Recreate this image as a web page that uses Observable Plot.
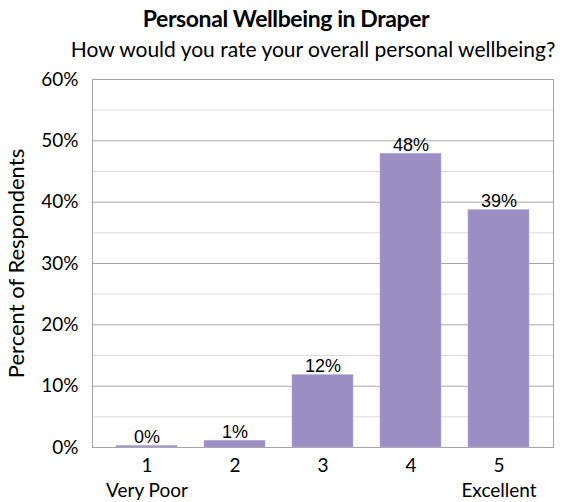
<!DOCTYPE html>
<html><head><meta charset="utf-8">
<script src="https://cdn.jsdelivr.net/npm/d3@7"></script>
<script src="https://cdn.jsdelivr.net/npm/@observablehq/plot@0.6"></script>
<style>
body{margin:0;background:#fff;font-family:Lato,"Open Sans",sans-serif;}
#wrap{width:572px;position:relative;}
#title{height:36px;line-height:36px;text-align:center;font-weight:bold;font-size:23px;letter-spacing:-0.4px;color:#000;}
#sub{height:24px;line-height:26px;text-align:center;font-size:21px;color:#000;padding-left:54px;white-space:nowrap;}
</style></head>
<body><div id="wrap"><div id="title">Personal Wellbeing in Draper</div><div id="sub">How would you rate your overall personal wellbeing?</div><div id="chart"></div></div>
<script>
const categories = ["1", "2", "3", "4", "5"];
const catLabels = ["1\nVery Poor", "2", "3", "4", "5\nExcellent"];
const values = [0.25, 1.1, 11.8, 47.9, 38.7];
const valueLabels = ["0%", "1%", "12%", "48%", "39%"];
const yTicks = [0, 10, 20, 30, 40, 50, 60];
const minorTicks = [5, 15, 25, 35, 45, 55];

const data = categories.map((c, i) => ({cat: c, value: values[i], label: valueLabels[i]}));
const labelMap = new Map(categories.map((c, i) => [c, catLabels[i]]));

const chart = Plot.plot({
  width: 572, height: 442,
  marginTop: 19, marginBottom: 55, marginLeft: 92, marginRight: 19,
  style: {fontFamily: "Lato, 'Open Sans', sans-serif", fontSize: "19px", color: "#000", background: "#fff", overflow: "visible"},
  x: {domain: categories, paddingInner: 0.305, paddingOuter: 0.245},
  y: {domain: [0, 60]},
  marks: [
    Plot.ruleY(minorTicks, {stroke: "#d9d9d9", strokeWidth: 1}),
    Plot.ruleY(yTicks, {stroke: "#a6a6a6", strokeWidth: 1}),
    Plot.frame({stroke: "#a6a6a6"}),
    Plot.barY(data, {x: "cat", y: "value", fill: "#9a8ec3", stroke: "#b7aed6", strokeWidth: 0.6}),
    Plot.text(data, {x: "cat", y: "value", text: "label", lineAnchor: "bottom", dy: -3, fontFamily: "'Liberation Sans', Arial, sans-serif", fontSize: 18, fill: "#000"}),
    Plot.axisY({ticks: yTicks, tickFormat: d => d + "%", tickSize: 0, tickPadding: 14, fontSize: 19, label: null}),
    Plot.axisX({tickSize: 0, tickPadding: 7, tickFormat: d => labelMap.get(d), lineHeight: 1.3, fontSize: 19, label: null}),
    Plot.text(["Percent of Respondents"], {frameAnchor: "left", textAnchor: "middle", dx: -76, rotate: -90, fontSize: 22, fill: "#000"})
  ]
});
document.getElementById("chart").appendChild(chart);
</script></body></html>
